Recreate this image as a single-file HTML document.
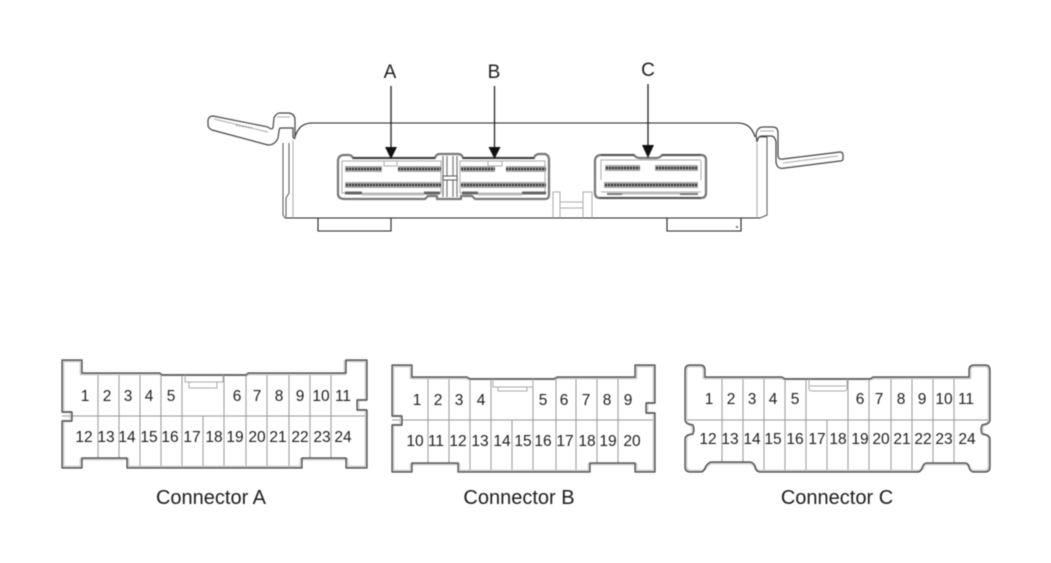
<!DOCTYPE html>
<html lang="en"><head><meta charset="utf-8"><title>ECU connectors</title>
<style>
html,body{margin:0;padding:0;background:#fff;width:1051px;height:563px;overflow:hidden}
svg{display:block;filter:blur(.5px)}
text{font-family:"Liberation Sans",sans-serif;fill:#1c1c1c}
.n{font-size:15.5px;text-anchor:middle}
.l{font-size:20px;text-anchor:middle}
.h{font-size:19px;text-anchor:middle}
.c{stroke:#999;stroke-width:1;fill:none}
.o1{fill:none;stroke:#c8c8c8;stroke-width:2.6;stroke-linejoin:round}
.o2{fill:none;stroke:#444;stroke-width:1.2;stroke-linejoin:round}
.b{fill:none;stroke:#222;stroke-width:1.1}
.t{fill:none;stroke:#aaa;stroke-width:1}
.e{fill:none;stroke:#777;stroke-width:2.2;stroke-linejoin:round}
.band{stroke:#aaa;stroke-width:6;fill:none}
.pin{stroke:#333;stroke-width:2.6;stroke-dasharray:2 1;fill:none}
.a{stroke:#222;stroke-width:1.3;fill:none}
</style></head><body>
<svg width="1051" height="563" viewBox="0 0 1051 563" xmlns="http://www.w3.org/2000/svg">
<rect width="1051" height="563" fill="#fff"/>

<!-- ECU body -->
<path class="b" d="M295 137Q299 123 312 123H738Q751 123 755 137"/>
<path class="b" d="M285 218H760M318 218V231H391V218M667 218V231H741V218"/>
<path class="t" d="M293 140V218M757 143V218"/>
<!-- left clip -->
<path d="M208 120Q209 116 213 116L268 127Q271 130 273 128L274 118Q276 113 280 113H289Q295 114 295 120V137Q295 140 293 137V128H281Q279 128 279 131L278 138Q275 145 268 145L212 130Q208 128 208 125Z" fill="#fff" stroke="#444" stroke-width="1.2"/>
<path class="t" d="M214 119 268 132M277 117H290"/>
<path d="M236 125 252 128" stroke="#999" stroke-width="1.5" stroke-dasharray="2 1"/>
<path d="M283 143V215L285 218M289 143V193L286 198V217" fill="none" stroke="#555" stroke-width="1"/>
<!-- right clip -->
<path d="M756 135Q757 127 763 127H773Q778 127 778 133V155Q778 160 783 159L840 152Q843 152 843 155V159Q843 161 840 161L785 168Q777 170 776 162V142Q775 136 771 136H762Q758 136 757 142Z" fill="#fff" stroke="#444" stroke-width="1.2"/>
<path class="t" d="M783 163 838 156M760 131H774"/>
<path d="M760 137H767V215L760 218" fill="none" stroke="#555" stroke-width="1"/>
<!-- latch between connectors -->
<path class="t" d="M553 218V192H560V218M583 218V192H592V218M560 202H583M560 208H583" />
<path d="M736 226h2v2h-2z" fill="#777"/>

<!-- ECU connector A/B -->
<path class="e" d="M338 160Q339 155 344 155H348Q352 155 353 158H435Q436 154 440 154H458Q462 154 463 158H534Q535 154 540 154H545Q549 155 549 160V195Q549 199 545 199H475L472 196H461V199H437V196H428L425 199H345Q338 199 338 194Z"/>
<path d="M353 158H435M463 158H534" stroke="#333" stroke-width="1.4" fill="none"/>
<path class="t" d="M342 161H441V193H342ZM460 161H545V193H460ZM384 161V166H397V161M488 161V166H502V161"/>
<path class="band" d="M345 169H382M398 169H441M461 169H495M506 169H546M345 185H441M461 185H546"/>
<path class="pin" d="M346 169H382M398 169H441M461 169H495M506 169H546M346 185H441M461 185H546"/>
<path d="M345 193H362M424 193H440M462 193H478M522 193H546" stroke="#666" stroke-width="3" fill="none"/>
<path d="M362 194H424M478 194H522" stroke="#bbb" stroke-width="3" fill="none"/>
<path d="M443 156V197M447 156V197M453 156V197M457 156V197" stroke="#777" stroke-width="1.2" fill="none"/>
<path d="M443 176H457V180H443Z" fill="#fff" stroke="#555" stroke-width="1"/>

<!-- ECU connector C -->
<path class="e" d="M595 160Q596 155 601 155H634Q636 158 640 158H656Q660 158 662 155H701Q706 155 706 160V193Q706 198 701 198H600Q595 198 595 193Z"/>
<path d="M601 155H634M662 155H701M600 198H701" stroke="#444" stroke-width="1.2" fill="none"/>
<path class="t" d="M600 160H701M601 161V180M701 161V180M601 192H701"/>
<path d="M607 194H622M680 194H698" stroke="#777" stroke-width="2" fill="none"/>
<path d="M622 193H680" stroke="#bbb" stroke-width="3" fill="none"/>
<path class="band" d="M605 168H640M655 168H698M604 185H698"/>
<path class="pin" d="M606 168H640M656 168H698M605 185H698"/>

<!-- arrows -->
<path class="a" d="M391 86V150M494.500 86V150M648 84V148"/>
<path d="M385 147H397L391 159ZM488.500 147H500.500L494.500 159ZM642 145H654L648 158Z" fill="#111"/>
<text class="h" x="390" y="78">A</text>
<text class="h" x="494" y="78">B</text>
<text class="h" x="648" y="76">C</text>

<!-- Connector A -->
<path class="c" d="M98 375V458M119 375V458M140 375V467M161 375V467M182 375V467M203 416V467M224 375V467M246 375V467M267 375V467M289 375V467M310 375V458M331 375V458M62 416H367"/>
<path class="o1" d="M63 361H81V374H159L161 375H247L249 374H345V361H366V400H358V410H366V467H347V459H301V467H128V459H81V467H63V421H71V412H63Z"/>
<path class="o2" d="M62 360H82V373H160L162 375H246L248 373H346V360H367V400H357V410H367V468H346V458H302V468H127V458H82V468H62V421H72V412H62Z"/>
<path class="t" d="M185 375V382H223V375M189 382V388H217V382"/>
<text class="n" x="85" y="401">1</text><text class="n" x="107" y="401">2</text><text class="n" x="128" y="401">3</text><text class="n" x="149" y="401">4</text><text class="n" x="171" y="401">5</text><text class="n" x="237" y="401">6</text><text class="n" x="257" y="401">7</text><text class="n" x="279" y="401">8</text><text class="n" x="300" y="401">9</text><text class="n" x="321" y="401">10</text><text class="n" x="343" y="401">11</text>
<text class="n" x="84" y="442">12</text><text class="n" x="106" y="442">13</text><text class="n" x="127" y="442">14</text><text class="n" x="149" y="442">15</text><text class="n" x="170" y="442">16</text><text class="n" x="192" y="442">17</text><text class="n" x="214" y="442">18</text><text class="n" x="235" y="442">19</text><text class="n" x="257" y="442">20</text><text class="n" x="278" y="442">21</text><text class="n" x="300" y="442">22</text><text class="n" x="322" y="442">23</text><text class="n" x="343" y="442">24</text>
<text class="l" x="211" y="504">Connector A</text>

<!-- Connector B -->
<path class="c" d="M428 378V463M449 378V463M470 378V471M491 378V471M512 420V471M533 379V471M556 378V471M576 378V471M597 378V463M618 378V463M392 420H655"/>
<path class="o1" d="M393 366H411V378H466L469 379H555L558 378H636V366H654V403H647V413H654V471H636V464H589V471H459V464H411V471H393V425H401V416H393Z"/>
<path class="o2" d="M392 365H412V377H467L470 379H554L557 377H635V365H655V403H646V413H655V472H635V463H590V472H458V463H412V472H392V425H402V416H392Z"/>
<path class="t" d="M493 379V387H533V379M498 387V391H527V387"/>
<text class="n" x="417" y="405">1</text><text class="n" x="438" y="405">2</text><text class="n" x="459" y="405">3</text><text class="n" x="481" y="405">4</text><text class="n" x="543" y="405">5</text><text class="n" x="564" y="405">6</text><text class="n" x="586" y="405">7</text><text class="n" x="607" y="405">8</text><text class="n" x="628" y="405">9</text>
<text class="n" x="415" y="446">10</text><text class="n" x="436" y="446">11</text><text class="n" x="458" y="446">12</text><text class="n" x="480" y="446">13</text><text class="n" x="502" y="446">14</text><text class="n" x="523" y="446">15</text><text class="n" x="543" y="446">16</text><text class="n" x="565" y="446">17</text><text class="n" x="587" y="446">18</text><text class="n" x="608" y="446">19</text><text class="n" x="632" y="446">20</text>
<text class="l" x="519" y="504">Connector B</text>

<!-- Connector C -->
<path class="c" d="M722 378V463M743 378V463M764 378V471M785 378V471M806 378V471M827 420V471M848 379V471M869 378V471M891 378V471M912 378V471M933 378V463M954 378V463M686 420H989"/>
<path class="o1" d="M690 366H700Q704 366 704 370V378H781L784 379H871L874 378H970V370Q970 366 974 366H985Q989 366 989 370V420Q989 424 983 425Q981 430 983 434Q989 435 989 439V466Q989 471 984 471H974Q970 471 969 466Q968 464 965 464H927Q924 464 923 467Q921 471 918 471H760Q756 471 755 467Q753 463 750 463H711Q708 464 706 467Q704 471 701 471H691Q686 471 686 466V439Q686 435 692 434Q694 430 692 425Q686 424 686 420V370Q686 366 690 366Z"/>
<path class="o2" d="M690 365H700Q705 365 705 370V377H782L785 379H870L873 377H969V370Q969 365 974 365H985Q990 365 990 370V420Q990 424 982 425Q980 430 982 434Q990 435 990 439V467Q990 472 985 472H974Q970 472 969 467Q968 463 965 463H927Q924 463 923 466Q921 472 918 472H760Q756 472 755 466Q753 462 750 462H711Q708 463 706 466Q704 472 701 472H690Q685 472 685 467V439Q685 435 693 434Q695 430 693 425Q685 424 685 420V370Q685 365 690 365Z"/>
<path class="t" d="M809 379V388Q809 391 812 391H844Q847 391 847 388V379M810 386H846"/>
<text class="n" x="709" y="404">1</text><text class="n" x="731" y="404">2</text><text class="n" x="752" y="404">3</text><text class="n" x="773" y="404">4</text><text class="n" x="795" y="404">5</text><text class="n" x="860" y="404">6</text><text class="n" x="879" y="404">7</text><text class="n" x="901" y="404">8</text><text class="n" x="922" y="404">9</text><text class="n" x="944" y="404">10</text><text class="n" x="966" y="404">11</text>
<text class="n" x="708" y="444">12</text><text class="n" x="730" y="444">13</text><text class="n" x="752" y="444">14</text><text class="n" x="773" y="444">15</text><text class="n" x="795" y="444">16</text><text class="n" x="817" y="444">17</text><text class="n" x="838" y="444">18</text><text class="n" x="860" y="444">19</text><text class="n" x="881" y="444">20</text><text class="n" x="902" y="444">21</text><text class="n" x="923" y="444">22</text><text class="n" x="944" y="444">23</text><text class="n" x="967" y="444">24</text>
<text class="l" x="837" y="504">Connector C</text>
</svg>
</body></html>
